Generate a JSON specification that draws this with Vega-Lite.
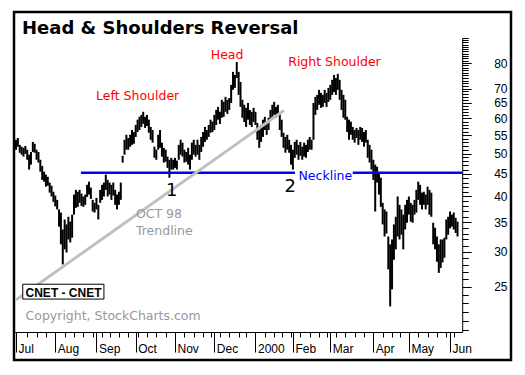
{
  "$schema": "https://vega.github.io/schema/vega-lite/v6.json",
  "width": 497,
  "height": 348,
  "autosize": {"type": "none"},
  "padding": {"left": 14, "top": 12, "right": 14, "bottom": 15},
  "background": "white",
  "title": {"text": "Head & Shoulders Reversal", "anchor": "start", "frame": "group", "offset": -40, "dx": 8, "font": "DejaVu Sans", "fontSize": 18, "fontWeight": "bold", "color": "black", "baseline": "alphabetic"},
  "config": {"view": {"stroke": "black", "strokeWidth": 2.5}},
  "datasets": {
    "px": [
      {"i":0,"p":53.7,"l":51.0},{"i":1,"p":54.2,"l":51.8},{"i":2,"p":52.3,"l":50.2},{"i":3,"p":51.8,"l":49.7},{"i":4,"p":51.5,"l":49.2},
      {"i":5,"p":52.0,"l":49.9},{"i":6,"p":51.0,"l":48.4},{"i":7,"p":49.7,"l":46.0},{"i":8,"p":50.4,"l":47.2},{"i":9,"p":53.1,"l":50.4},
      {"i":10,"p":52.6,"l":50.2},{"i":11,"p":51.0,"l":48.4},{"i":12,"p":50.4,"l":47.7},{"i":13,"p":48.4,"l":45.5},{"i":14,"p":46.9,"l":43.6},
      {"i":15,"p":45.5,"l":43.2},{"i":16,"p":44.8,"l":42.1},{"i":17,"p":44.3,"l":42.3},{"i":18,"p":43.0,"l":40.8},{"i":19,"p":42.3,"l":40.0},
      {"i":20,"p":41.0,"l":38.9},{"i":21,"p":40.2,"l":38.0},{"i":22,"p":39.3,"l":37.4},{"i":23,"p":37.4,"l":34.2},{"i":24,"p":36.8,"l":31.2},
      {"i":25,"p":33.7,"l":28.1},{"i":26,"p":35.5,"l":30.4},{"i":27,"p":34.6,"l":29.9},{"i":28,"p":36.0,"l":32.0},{"i":29,"p":35.1,"l":31.5},
      {"i":30,"p":36.4,"l":32.3},{"i":31,"p":40.4,"l":36.4},{"i":32,"p":41.4,"l":37.7},{"i":33,"p":41.0,"l":37.9},{"i":34,"p":41.4,"l":38.7},
      {"i":35,"p":40.6,"l":38.1},{"i":36,"p":40.0,"l":37.9},{"i":37,"p":40.4,"l":38.3},{"i":38,"p":42.5,"l":39.9},{"i":39,"p":43.2,"l":40.4},
      {"i":40,"p":41.9,"l":39.5},{"i":41,"p":39.3,"l":37.0},{"i":42,"p":38.7,"l":36.8},{"i":43,"p":39.7,"l":37.4},{"i":44,"p":38.3,"l":35.5},
      {"i":45,"p":41.4,"l":38.7},{"i":46,"p":42.5,"l":39.3},{"i":47,"p":43.0,"l":40.0},{"i":48,"p":44.8,"l":41.4},{"i":49,"p":43.6,"l":40.0},
      {"i":50,"p":43.0,"l":40.4},{"i":51,"p":42.5,"l":39.3},{"i":52,"p":43.0,"l":40.2},{"i":53,"p":41.4,"l":38.3},{"i":54,"p":40.4,"l":37.4},
      {"i":55,"p":41.0,"l":38.3},{"i":56,"p":43.0,"l":39.3},{"i":57,"p":49.4,"l":47.7},{"i":58,"p":53.7,"l":49.7},{"i":59,"p":55.1,"l":51.0},
      {"i":60,"p":54.2,"l":51.0},{"i":61,"p":55.1,"l":51.8},{"i":62,"p":56.5,"l":52.3},{"i":63,"p":55.9,"l":52.6},{"i":64,"p":58.0,"l":54.5},
      {"i":65,"p":59.6,"l":55.9},{"i":66,"p":60.5,"l":56.5},{"i":67,"p":61.1,"l":57.4},{"i":68,"p":62.1,"l":58.3},{"i":69,"p":60.5,"l":57.1},
      {"i":70,"p":61.1,"l":57.7},{"i":71,"p":59.6,"l":55.7},{"i":72,"p":57.4,"l":53.7},{"i":73,"p":56.5,"l":52.9},{"i":74,"p":51.8,"l":48.9},
      {"i":75,"p":51.0,"l":48.4},{"i":76,"p":55.1,"l":51.0},{"i":77,"p":56.5,"l":51.5},{"i":78,"p":52.9,"l":49.2},{"i":79,"p":51.5,"l":47.7},
      {"i":80,"p":51.0,"l":47.9},{"i":81,"p":49.2,"l":46.4},{"i":82,"p":48.4,"l":44.1},{"i":83,"p":48.9,"l":46.0},{"i":84,"p":48.4,"l":46.0},
      {"i":85,"p":48.9,"l":46.4},{"i":86,"p":48.2,"l":46.0},{"i":87,"p":52.3,"l":48.4},{"i":88,"p":53.7,"l":49.7},{"i":89,"p":52.9,"l":49.2},
      {"i":90,"p":51.0,"l":47.7},{"i":91,"p":50.4,"l":47.9},{"i":92,"p":51.5,"l":47.2},{"i":93,"p":49.7,"l":46.0},{"i":94,"p":52.9,"l":48.4},
      {"i":95,"p":53.7,"l":49.7},{"i":96,"p":52.3,"l":49.2},{"i":97,"p":53.7,"l":49.7},{"i":98,"p":52.3,"l":48.4},{"i":99,"p":54.5,"l":50.4},
      {"i":100,"p":55.9,"l":51.8},{"i":101,"p":57.4,"l":53.1},{"i":102,"p":56.5,"l":53.7},{"i":103,"p":58.0,"l":54.5},{"i":104,"p":59.6,"l":55.7},
      {"i":105,"p":59.0,"l":55.9},{"i":106,"p":61.1,"l":56.5},{"i":107,"p":62.7,"l":58.0},{"i":108,"p":63.7,"l":59.6},{"i":109,"p":62.1,"l":58.3},
      {"i":110,"p":66.1,"l":60.2},{"i":111,"p":65.4,"l":60.5},{"i":112,"p":67.1,"l":62.1},{"i":113,"p":66.1,"l":61.4},{"i":114,"p":66.7,"l":62.7},
      {"i":115,"p":71.4,"l":65.0},{"i":116,"p":76.4,"l":69.6},{"i":117,"p":75.2,"l":70.3},{"i":118,"p":80.4,"l":74.0},{"i":119,"p":76.4,"l":67.8},
      {"i":120,"p":72.5,"l":63.7},{"i":121,"p":66.1,"l":60.2},{"i":122,"p":64.4,"l":58.9},{"i":123,"p":63.4,"l":57.4},{"i":124,"p":65.0,"l":59.6},
      {"i":125,"p":62.7,"l":58.0},{"i":126,"p":62.1,"l":57.4},{"i":127,"p":63.4,"l":58.9},{"i":128,"p":62.1,"l":58.0},{"i":129,"p":58.6,"l":53.7},
      {"i":130,"p":56.5,"l":51.5},{"i":131,"p":58.0,"l":53.1},{"i":132,"p":59.6,"l":54.5},{"i":133,"p":60.5,"l":56.5},{"i":134,"p":59.0,"l":55.1},
      {"i":135,"p":60.2,"l":56.5},{"i":136,"p":62.7,"l":59.6},{"i":137,"p":64.4,"l":60.5},{"i":138,"p":65.4,"l":61.1},{"i":139,"p":63.7,"l":60.2},
      {"i":140,"p":64.4,"l":60.8},{"i":141,"p":61.8,"l":56.5},{"i":142,"p":59.6,"l":54.5},{"i":143,"p":55.7,"l":51.5},{"i":144,"p":54.5,"l":50.2},
      {"i":145,"p":55.1,"l":51.0},{"i":146,"p":53.7,"l":50.2},{"i":147,"p":52.3,"l":47.2},{"i":148,"p":51.0,"l":46.0},{"i":149,"p":53.1,"l":48.9},
      {"i":150,"p":53.7,"l":49.7},{"i":151,"p":52.3,"l":48.4},{"i":152,"p":53.1,"l":49.4},{"i":153,"p":51.8,"l":48.4},{"i":154,"p":52.9,"l":49.2},
      {"i":155,"p":52.3,"l":48.9},{"i":156,"p":53.7,"l":50.4},{"i":157,"p":54.5,"l":51.0},{"i":158,"p":53.7,"l":51.0},{"i":159,"p":65.0,"l":53.7},
      {"i":160,"p":67.1,"l":61.1},{"i":161,"p":67.8,"l":62.7},{"i":162,"p":69.6,"l":64.4},{"i":163,"p":68.5,"l":63.4},{"i":164,"p":67.8,"l":63.7},
      {"i":165,"p":69.6,"l":65.0},{"i":166,"p":68.5,"l":63.7},{"i":167,"p":70.3,"l":65.4},{"i":168,"p":71.4,"l":66.1},{"i":169,"p":73.3,"l":67.8},
      {"i":170,"p":75.2,"l":68.8},{"i":171,"p":74.0,"l":67.8},{"i":172,"p":75.6,"l":69.6},{"i":173,"p":73.3,"l":66.1},{"i":174,"p":69.6,"l":62.7},
      {"i":175,"p":67.8,"l":60.2},{"i":176,"p":66.1,"l":59.6},{"i":177,"p":60.5,"l":55.9},{"i":178,"p":59.6,"l":53.7},{"i":179,"p":59.0,"l":55.1},
      {"i":180,"p":57.4,"l":53.7},{"i":181,"p":56.5,"l":52.9},{"i":182,"p":57.1,"l":54.2},{"i":183,"p":56.5,"l":52.3},{"i":184,"p":57.4,"l":53.7},
      {"i":185,"p":57.1,"l":53.1},{"i":186,"p":55.9,"l":51.8},{"i":187,"p":56.5,"l":52.9},{"i":188,"p":53.7,"l":48.9},{"i":189,"p":52.3,"l":47.7},
      {"i":190,"p":51.0,"l":46.0},{"i":191,"p":48.4,"l":43.6},{"i":192,"p":47.2,"l":37.0},{"i":193,"p":46.7,"l":43.0},{"i":194,"p":45.2,"l":40.4},
      {"i":195,"p":44.1,"l":37.9},{"i":196,"p":38.7,"l":34.6},{"i":197,"p":37.4,"l":32.5},{"i":198,"p":37.0,"l":33.0},{"i":199,"p":32.5,"l":27.4},
      {"i":200,"p":31.2,"l":22.6},{"i":201,"p":32.0,"l":24.7},{"i":202,"p":34.6,"l":28.8},{"i":203,"p":36.0,"l":30.4},{"i":204,"p":40.0,"l":32.5},
      {"i":205,"p":38.3,"l":32.0},{"i":206,"p":37.4,"l":32.8},{"i":207,"p":36.4,"l":30.4},{"i":208,"p":38.3,"l":33.7},{"i":209,"p":39.3,"l":34.9},
      {"i":210,"p":40.0,"l":36.4},{"i":211,"p":38.7,"l":35.1},{"i":212,"p":38.3,"l":34.9},{"i":213,"p":39.3,"l":36.4},{"i":214,"p":41.4,"l":36.8},
      {"i":215,"p":43.2,"l":39.3},{"i":216,"p":42.5,"l":38.3},{"i":217,"p":40.8,"l":37.4},{"i":218,"p":41.0,"l":38.3},{"i":219,"p":40.4,"l":37.4},
      {"i":220,"p":42.1,"l":38.3},{"i":221,"p":41.4,"l":36.4},{"i":222,"p":40.8,"l":36.0},{"i":223,"p":34.9,"l":31.2},{"i":224,"p":34.0,"l":30.4},
      {"i":225,"p":32.5,"l":28.5},{"i":226,"p":31.2,"l":26.9},{"i":227,"p":32.0,"l":27.6},{"i":228,"p":32.0,"l":28.4},{"i":229,"p":32.3,"l":29.1},
      {"i":230,"p":35.5,"l":32.0},{"i":231,"p":36.0,"l":32.8},{"i":232,"p":37.0,"l":33.9},{"i":233,"p":36.4,"l":34.2},{"i":234,"p":36.8,"l":33.7},
      {"i":235,"p":35.8,"l":33.1},{"i":236,"p":35.1,"l":32.5}
    ],
    "neck": [{"i":34.7,"i2":149.1,"p":45.24},{"i":180.0,"i2":238.5,"p":45.24}],
    "trend": [{"i":0,"p":23.38},{"i":143.2,"p":62.5}],
    "box": [{"i":3.6,"i2":47.0,"p":25.36,"p2":23.48}],
    "red": [{"t":"Left Shoulder","i":42.8,"p":66.1},{"t":"Head","i":104.1,"p":81.6},{"t":"Right Shoulder","i":145.5,"p":78.8}],
    "nums": [{"t":"1","i":80.2,"p":40.2},{"t":"2","i":143.5,"p":41.0}],
    "blue": [{"t":"Neckline","i":151.0,"p":43.63}],
    "gray": [{"t":"OCT 98","i":64.1,"p":35.85},{"t":"Trendline","i":64.1,"p":32.8},{"t":"Copyright, StockCharts.com","i":5.1,"p":21.06}],
    "sym": [{"t":"CNET - CNET","i":5.1,"p":23.71}]
  },
  "encoding": {
    "x": {"field": "i", "type": "quantitative",
      "scale": {"domain": [-1, 238.5], "range": [0.13, 448.2], "nice": false, "zero": false},
      "axis": {"orient": "bottom", "offset": -28, "title": null, "grid": false,
        "values": [0,6,11,16,21,26,31,36,41,43,46,50,55,60,64,65,70,75,80,85,90,95,100,104,106,109,114,119,123,128,133,138,142,147,148,152,157,162,166,168,171,176,181,186,191,196,201,205,210,215,220,225,230,232,234],
        "tickSize": {"condition": {"test": "indexof([0,21,43,64,85,106,128,148,168,191,210,232], datum.value) >= 0", "value": 20}, "value": 5},
        "labelExpr": "indexof([0,21,43,64,85,106,128,148,168,191,210,232], datum.value) >= 0 ? ['Jul','Aug','Sep','Oct','Nov','Dec','2000','Feb','Mar','Apr','May','Jun'][indexof([0,21,43,64,85,106,128,148,168,191,210,232], datum.value)] : ''",
        "labelAlign": "left", "labelBaseline": "alphabetic", "labelOffset": 2, "labelPadding": 0,
        "labelFont": "Liberation Sans", "labelFontSize": 12, "labelColor": "black",
        "domainColor": "black", "tickColor": "black", "labelOverlap": false, "labelFlush": false, "labelBound": false}},
    "y": {"field": "p", "type": "quantitative",
      "scale": {"type": "log", "domain": [19.79, 91.09], "range": [320, 26], "nice": false},
      "axis": {"orient": "right", "offset": -48.8, "title": null, "grid": false,
        "values": [20,21,22,23,24,25,26,27,28,29,30,31,32,33,34,35,36,37,38,39,40,41,42,43,44,45,46,47,48,49,50,51,52,53,54,55,56,57,58,59,60,61,62,63,64,65,66,67,68,69,70,71,72,73,74,75,76,77,78,79,80,81,82,83,84,85,86,87,88,89,90,91],
        "tickSize": {"condition": {"test": "indexof([25,30,35,40,45,50,55,60,65,70,80], datum.value) >= 0", "value": 9}, "value": 6},
        "labelExpr": "indexof([25,30,35,40,45,50,55,60,65,70,80], datum.value) >= 0 ? datum.label : ''",
        "format": "d",
        "labelAlign": "right", "labelBaseline": "middle", "labelPadding": 35.8,
        "labelFont": "Liberation Sans", "labelFontSize": 12, "labelColor": "black",
        "domainColor": "black", "tickColor": "black", "labelOverlap": false, "labelFlush": false, "labelBound": false}}
  },
  "layer": [
    {"data": {"name": "px"}, "mark": {"type": "rule", "color": "black", "strokeWidth": 2}, "encoding": {"y2": {"field": "l"}}},
    {"data": {"name": "neck"}, "mark": {"type": "rule", "color": "#0000ff", "strokeWidth": 2.5}, "encoding": {"x2": {"field": "i2"}}},
    {"data": {"name": "trend"}, "mark": {"type": "line", "color": "#c0c0c0", "strokeWidth": 3}, "encoding": {}},
    {"data": {"name": "box"}, "mark": {"type": "rect", "fill": "white", "stroke": "black", "strokeWidth": 1}, "encoding": {"x2": {"field": "i2"}, "y2": {"field": "p2"}}},
    {"data": {"name": "red"}, "mark": {"type": "text", "align": "left", "baseline": "alphabetic", "font": "DejaVu Sans", "fontSize": 12.5, "color": "#ff0000"}, "encoding": {"text": {"field": "t"}}},
    {"data": {"name": "nums"}, "mark": {"type": "text", "align": "left", "baseline": "alphabetic", "font": "DejaVu Sans", "fontSize": 18, "color": "black"}, "encoding": {"text": {"field": "t"}}},
    {"data": {"name": "blue"}, "mark": {"type": "text", "align": "left", "baseline": "alphabetic", "font": "DejaVu Sans", "fontSize": 12.5, "color": "#0000ff"}, "encoding": {"text": {"field": "t"}}},
    {"data": {"name": "gray"}, "mark": {"type": "text", "align": "left", "baseline": "alphabetic", "font": "DejaVu Sans", "fontSize": 12.5, "color": "#999999"}, "encoding": {"text": {"field": "t"}}},
    {"data": {"name": "sym"}, "mark": {"type": "text", "align": "left", "baseline": "alphabetic", "font": "Liberation Sans", "fontSize": 12, "fontWeight": "bold", "color": "black"}, "encoding": {"text": {"field": "t"}}}
  ]
}
